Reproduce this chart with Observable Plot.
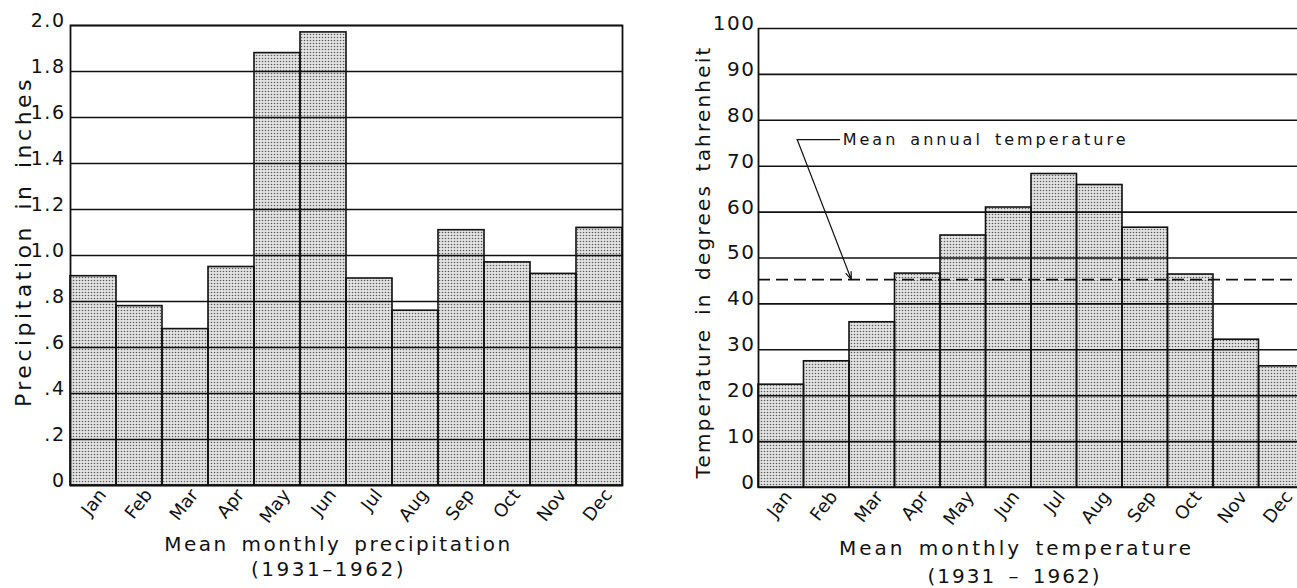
<!DOCTYPE html>
<html><head><meta charset="utf-8">
<script src="https://cdn.jsdelivr.net/npm/d3@7"></script>
<script src="https://cdn.jsdelivr.net/npm/@observablehq/plot@0.6"></script>
<style>
html,body{margin:0;padding:0;background:#fff;overflow:hidden;width:1297px;height:588px;}
#wrap{position:relative;width:1297px;height:588px;overflow:hidden;}
#left{position:absolute;left:0;top:0;width:640px;height:588px;}
#right{position:absolute;left:640px;top:0;width:680px;height:588px;}
#wrap svg{max-width:none !important;}
svg text{font-family:"DejaVu Sans",sans-serif;}
#defs{position:absolute;width:0;height:0;}
</style></head><body>
<svg id="defs" width="0" height="0">
  <defs>
    <pattern id="stipple" width="3" height="3" patternUnits="userSpaceOnUse">
      <rect width="3" height="3" fill="#e4e4e4"></rect>
      <circle cx="1.5" cy="1.5" r="0.8" fill="#5e5e5e"></circle>
    </pattern>
  </defs>
</svg>
<div id="wrap"><div id="left"></div><div id="right"></div></div>
<script>
// ---- data ----
const months = ["Jan","Feb","Mar","Apr","May","Jun","Jul","Aug","Sep","Oct","Nov","Dec"];
const precipitation = [0.91,0.78,0.68,0.95,1.88,1.97,0.90,0.76,1.11,0.97,0.92,1.12];
const temperature = [22.4,27.5,36.0,46.6,54.9,61.0,68.3,65.9,56.6,46.4,32.2,26.4];
const meanAnnualTemperature = 45.3;
const precipTicks = [0,0.2,0.4,0.6,0.8,1.0,1.2,1.4,1.6,1.8,2.0];
const precipTickLabels = ["0",".2",".4",".6",".8","1.0","1.2","1.4","1.6","1.8","2.0"];
const tempTicks = [0,10,20,30,40,50,60,70,80,90,100];
const tempTickLabels = ["0","10","20","30","40","50","60","70","80","90","100"];
const precipYLabel = "Precipitation in inches";
const tempYLabel = "Temperature in degrees tahrenheit";
const precipTitle = "Mean monthly precipitation";
const precipPeriod = "(1931–1962)";
const tempTitle = "Mean monthly temperature";
const tempPeriod = "(1931 – 1962)";
const annotationText = "Mean annual temperature";
// annotation anchor (month-index units, degrees)
const annotationLeader = [{x1: 0.85, x2: 1.8, y: 75.8}];
const annotationArrow = [{x1: 0.85, y1: 75.8, x2: 2.04, y2: meanAnnualTemperature}];
const annotationLabel = [{x: 1.85, y: 75.8, text: annotationText}];

const precipData = months.map((m, i) => ({i, month: m, value: precipitation[i]}));
const tempData = months.map((m, i) => ({i, month: m, value: temperature[i]}));
const monthCenters = months.map((m, i) => i + 0.5);

const INK = "#111";
const FILL = "#c8c8c8";

function chart({data, ticks, tickLabels, yDomain, yLabel, title, period, marginLeft, marginRight, marginTop, marginBottom, width, tickPadding, tickFont, monthDx, extra, frame, titleDy, periodDy, titleDx, periodDx, yLabelDx, yLabelDy, yLabelSize}) {
  return Plot.plot({
    width, height: 588, marginLeft, marginRight, marginTop, marginBottom,
    style: {background: "transparent", overflow: "visible", fontFamily: "DejaVu Sans, sans-serif", color: INK},
    x: {domain: [0, 12]},
    y: {domain: yDomain},
    marks: [
      Plot.rect(data, {x1: "i", x2: d => d.i + 1, y1: 0, y2: "value", fill: FILL}),
      Plot.ruleY(ticks, {stroke: INK, strokeWidth: 1.6}),
      ...(extra || []),
      Plot.rect(data, {x1: "i", x2: d => d.i + 1, y1: 0, y2: "value", fill: "none", stroke: INK, strokeWidth: 1.6}),
      frame ? Plot.frame({stroke: INK, strokeWidth: 1.8}) : Plot.ruleX([0], {stroke: INK, strokeWidth: 1.8}),
      Plot.axisY({ticks, tickFormat: d => tickLabels[ticks.indexOf(d)], tickSize: 0, tickPadding, dy: -5, fontSize: tickFont, label: null}),
      Plot.axisX({ticks: monthCenters, tickFormat: d => months[Math.floor(d)], tickSize: 0, tickPadding: 6, tickRotate: -52, fontSize: 18, dx: monthDx, label: null}),
      Plot.text([yLabel], {frameAnchor: "left", textAnchor: "middle", rotate: -90, dx: yLabelDx, dy: yLabelDy, fontSize: yLabelSize}),
      Plot.text([title], {frameAnchor: "bottom", dy: titleDy, dx: titleDx, fontSize: 20}),
      Plot.text([period], {frameAnchor: "bottom", dy: periodDy, dx: periodDx, fontSize: 20})
    ]
  });
}

const left = chart({
  data: precipData, ticks: precipTicks, tickLabels: precipTickLabels, yDomain: [0, 2],
  yLabel: precipYLabel, title: precipTitle, period: precipPeriod,
  width: 640, marginLeft: 70, marginRight: 18, marginTop: 25, marginBottom: 103,
  tickPadding: 5, tickFont: 19, monthDx: 9, frame: true, titleDy: 65, periodDy: 90, titleDx: -8, periodDx: -18,
  yLabelDx: -47, yLabelDy: -14, yLabelSize: 22
});

const right = chart({
  data: tempData, ticks: tempTicks, tickLabels: tempTickLabels, yDomain: [0, 100],
  yLabel: tempYLabel, title: tempTitle, period: tempPeriod,
  width: 680, marginLeft: 118, marginRight: 16, marginTop: 28, marginBottom: 101,
  tickPadding: 3, tickFont: 20, monthDx: 7, frame: false, titleDy: 67, periodDy: 95, titleDx: -15, periodDx: -17,
  yLabelDx: -55, yLabelDy: 4, yLabelSize: 20,
  extra: [
    Plot.ruleY([meanAnnualTemperature], {stroke: INK, strokeWidth: 1.8, strokeDasharray: "12,6"}),
    Plot.ruleY(annotationLeader, {x1: "x1", x2: "x2", y: "y", stroke: INK, strokeWidth: 1.2}),
    Plot.arrow(annotationArrow, {x1: "x1", y1: "y1", x2: "x2", y2: "y2", stroke: INK, strokeWidth: 1.2, headLength: 10, headAngle: 40}),
    Plot.text(annotationLabel, {x: "x", y: "y", text: "text", textAnchor: "start", fontSize: 16})
  ]
});

document.getElementById("left").appendChild(left);
document.getElementById("right").appendChild(right);

// stippled fill like the halftone screen of the original
d3.selectAll("#wrap svg g").filter(function() { return this.getAttribute("fill") === FILL; }).attr("fill", "url(#stipple)");
d3.selectAll("#wrap svg rect").filter(function() { return this.getAttribute("fill") === FILL; }).attr("fill", "url(#stipple)");

// letter spacing for the hand-lettered look
const spacing = new Map([
  [precipTitle, "2.5px"], [precipPeriod, "2.5px"], [tempTitle, "3px"], [tempPeriod, "2px"],
  [precipYLabel, "3.5px"], [tempYLabel, "2.2px"], [annotationText, "3px"]
]);
d3.selectAll("svg text").each(function() {
  const t = this.textContent;
  if (spacing.has(t)) { this.style.letterSpacing = spacing.get(t); this.style.wordSpacing = "4px"; }
  else if (tempTickLabels.includes(t) && this.closest("#right")) { this.style.letterSpacing = "1.5px"; }
  else if (precipTickLabels.includes(t) && this.closest("#left")) { this.style.letterSpacing = "1.5px"; }
});
</script>
</body></html>
